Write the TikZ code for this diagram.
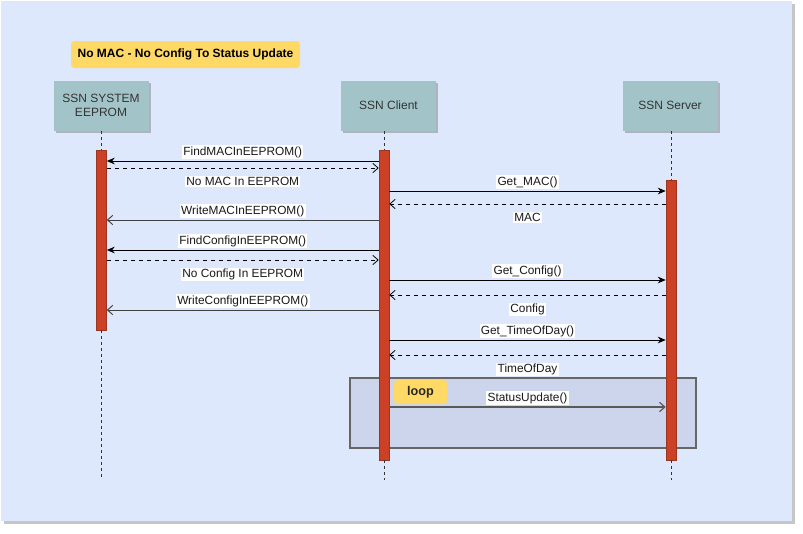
\documentclass[tikz,border=0pt]{standalone}
\usepackage{fontspec}
\setmainfont{Liberation Sans}
\usetikzlibrary{arrows.meta,shadows}

\definecolor{pagebg}{HTML}{DEE8FC}
\definecolor{boxteal}{HTML}{A2C4C9}
\definecolor{barred}{HTML}{CC4125}
\definecolor{barline}{HTML}{9A3522}
\definecolor{tagyellow}{HTML}{FFD966}
\definecolor{loopfill}{HTML}{CDD5EC}

\begin{document}
\begin{tikzpicture}[x=0.75pt,y=-0.75pt,
    actor/.style={fill=boxteal,minimum width=71.25pt,minimum height=37.5pt,align=center,
      text=black!80,font=\fontsize{9}{11}\selectfont,
      drop shadow={shadow xshift=1.8pt,shadow yshift=-1.8pt,fill=gray,opacity=0.5}},
    activ/.style={draw=barline,fill=barred,minimum width=7.5pt,inner sep=0pt},
    life/.style={black!80,dash pattern=on 2.25pt off 2.25pt},
    call/.style={line width=0.7pt,-{Stealth[length=6pt,width=5pt]}},
    callopen/.style={line width=0.7pt,-{Straight Barb[length=4pt,width=7pt]}},
    reply/.style={line width=0.6pt,dashed,-{Straight Barb[length=4pt,width=7pt]}},
    msgtxt/.style={fill=white,inner sep=1pt,font=\fontsize{8.9}{10}\selectfont,text=black!90},
    tag/.style={fill=tagyellow,rounded corners=2.5pt,inner sep=0pt}
  ]
    % page
    \fill[white] (0,0) rectangle (803,533);
    \useasboundingbox (0,0) rectangle (803,533);
    \fill[gray!45] (4,4) rectangle (795,524);
    \fill[pagebg] (1,1) rectangle (792,521);

    % title
    \node[tag,minimum width=171.75pt,minimum height=20.25pt,font=\fontsize{9}{11}\selectfont\bfseries]
      (title) at (185.5,54.5) {No MAC - No Config To Status Update};

    % lifeline heads
    \node[actor] (eebox) at (101,105.5) {SSN SYSTEM\\EEPROM};
    \node[actor] (clbox) at (388.5,105.5) {SSN Client};
    \node[actor] (svbox) at (670,105.5) {SSN Server};

    % loop frame (under the bars)
    \node[draw=black!60,fill=loopfill,line width=0.9pt,minimum width=259.5pt,minimum height=52.5pt,inner sep=0pt]
      (loopbox) at (523,413) {};
    \node[tag,minimum width=39.75pt,minimum height=18pt,font=\fontsize{9.5}{10}\selectfont\bfseries,text=black!85]
      (looptag) at (420.5,392) {loop};

    % activation bars
    \node[activ,minimum height=135pt] (eebar) at (101.5,240) {};
    \node[activ,minimum height=232.5pt] (clbar) at (384,305) {};
    \node[activ,minimum height=210pt] (svbar) at (671,320) {};

    % lifelines
    \coordinate (eeend) at (eebar.south |- 0,480);
    \coordinate (clend) at (clbar.south |- 0,480);
    \coordinate (svend) at (svbar.south |- 0,480);
    \draw[life] (eebar.north |- eebox.south) -- (eebar.north);
    \draw[life] (clbar.north |- clbox.south) -- (clbar.north);
    \draw[life] (svbar.north |- svbox.south) -- (svbar.north);
    \draw[life] (eebar.south) -- (eeend);
    \draw[life] (clbar.south) -- (clend);
    \draw[life] (svbar.south) -- (svend);

    % MAC
    \draw[call] (clbar.west |- 0,161) -- node[msgtxt,above=1pt] {FindMACInEEPROM()} (eebar.east |- 0,161);
    \draw[reply] (eebar.east |- 0,168) -- node[msgtxt,below=5.5pt] {No MAC In EEPROM} (clbar.west |- 0,168);
    \draw[call] (clbar.east |- 0,191) -- node[msgtxt,above=1pt] {Get\_MAC()} (svbar.west |- 0,191);
    \draw[reply] (svbar.west |- 0,204) -- node[msgtxt,below=5.5pt] {MAC} (clbar.east |- 0,204);
    \draw[callopen,black!75] (clbar.west |- 0,220) -- node[msgtxt,above=1pt] {WriteMACInEEPROM()} (eebar.east |- 0,220);

    % Config
    \draw[call] (clbar.west |- 0,250) -- node[msgtxt,above=1pt] {FindConfigInEEPROM()} (eebar.east |- 0,250);
    \draw[reply] (eebar.east |- 0,260) -- node[msgtxt,below=5.5pt] {No Config In EEPROM} (clbar.west |- 0,260);
    \draw[call] (clbar.east |- 0,280) -- node[msgtxt,above=1pt] {Get\_Config()} (svbar.west |- 0,280);
    \draw[reply] (svbar.west |- 0,295) -- node[msgtxt,below=5.5pt] {Config} (clbar.east |- 0,295);
    \draw[callopen,black!75] (clbar.west |- 0,310) -- node[msgtxt,above=1pt] {WriteConfigInEEPROM()} (eebar.east |- 0,310);

    % time of day + loop
    \draw[call] (clbar.east |- 0,340) -- node[msgtxt,above=1pt] {Get\_TimeOfDay()} (svbar.west |- 0,340);
    \draw[reply] (svbar.west |- 0,355) -- node[msgtxt,below=5.5pt] {TimeOfDay} (clbar.east |- 0,355);
    \draw[callopen,black!65,line width=0.9pt] (clbar.east |- 0,407) -- node[msgtxt,above=1pt] {StatusUpdate()} (svbar.west |- 0,407);

\end{tikzpicture}
\end{document}
